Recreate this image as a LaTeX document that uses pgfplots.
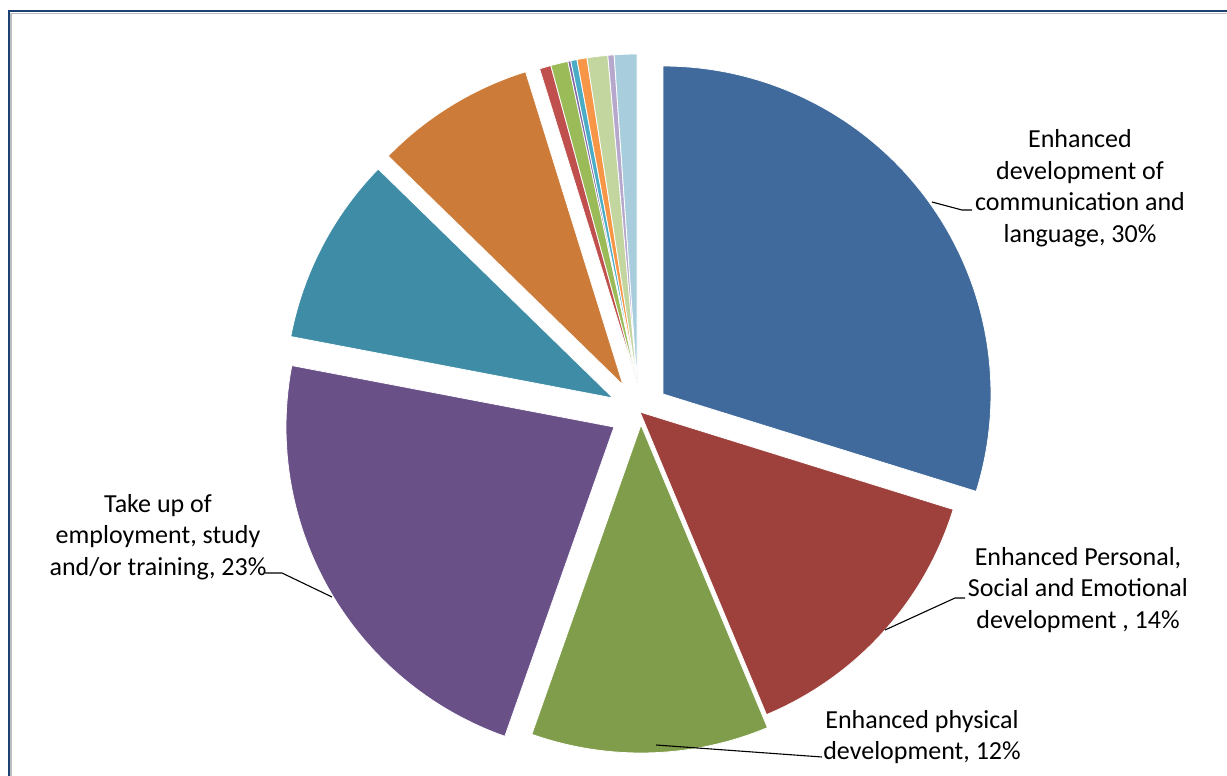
\documentclass[border=0pt]{standalone}
\usepackage{pgfplots}
\pgfplotsset{compat=1.18}
\usepackage{fontspec}
\setmainfont{Carlito}

\definecolor{cBlue}{RGB}{64,106,155}
\definecolor{cRed}{RGB}{158,65,61}
\definecolor{cGreen}{RGB}{127,157,74}
\definecolor{cPurple}{RGB}{105,81,136}
\definecolor{cTeal}{RGB}{62,140,165}
\definecolor{cOrange}{RGB}{204,123,57}
\definecolor{sRed}{RGB}{192,80,77}
\definecolor{sGreen}{RGB}{155,187,89}
\definecolor{sPurple}{RGB}{128,100,162}
\definecolor{sAqua}{RGB}{75,172,198}
\definecolor{sOrange}{RGB}{247,150,70}
\definecolor{sLGreen}{RGB}{196,214,160}
\definecolor{sLav}{RGB}{182,168,204}
\definecolor{sLBlue}{RGB}{168,206,222}
\definecolor{frameNavy}{RGB}{28,64,115}
\definecolor{frameGray}{RGB}{190,190,190}

% slice values (percent), clockwise from 12 o'clock
\def\vA{29.8}  % Enhanced development of communication and language
\def\vB{13.9}  % Enhanced Personal, Social and Emotional development
\def\vC{11.7}  % Enhanced physical development
\def\vD{22.6}  % Take up of employment, study and/or training
\def\vE{9.3}
\def\vF{7.9}
\def\vG{0.57}
\def\vH{0.85}
\def\vI{0.14}
\def\vJ{0.31}
\def\vK{0.49}
\def\vL{1.02}
\def\vM{0.31}
\def\vN{1.11}

\def\R{328}

\newcommand{\slice}[5]{%
  \addplot[fill=#1, draw=white, line width=0.8pt, domain=#2:#3, samples=90, variable=\t]
    ({#4+\R*sin(t)}, {#5-\R*cos(t)}) -- (axis cs:#4,#5) -- cycle;
}

\begin{document}
\begin{tikzpicture}
\fill[white] (-5pt,-5pt) rectangle (1235pt,785pt);
\pgfmathsetmacro\aA{0}
\pgfmathsetmacro\aB{\aA+3.6*\vA}
\pgfmathsetmacro\aC{\aB+3.6*\vB}
\pgfmathsetmacro\aD{\aC+3.6*\vC}
\pgfmathsetmacro\aE{\aD+3.6*\vD}
\pgfmathsetmacro\aF{\aE+3.6*\vE}
\pgfmathsetmacro\aG{\aF+3.6*\vF}
\pgfmathsetmacro\aH{\aG+3.6*\vG}
\pgfmathsetmacro\aI{\aH+3.6*\vH}
\pgfmathsetmacro\aJ{\aI+3.6*\vI}
\pgfmathsetmacro\aK{\aJ+3.6*\vJ}
\pgfmathsetmacro\aL{\aK+3.6*\vK}
\pgfmathsetmacro\aM{\aL+3.6*\vL}
\pgfmathsetmacro\aN{\aM+3.6*\vM}
\pgfmathsetmacro\aO{\aN+3.6*\vN}
\begin{axis}[
  width=1227pt, height=776pt, scale only axis,
  xmin=0, xmax=1227, ymin=0, ymax=776, y dir=reverse,
  hide axis, clip=false,
]
% frame
\draw[frameGray, line width=1.5pt] (axis cs:11,780) -- (axis cs:11,13.5) -- (axis cs:1230,13.5);
\draw[frameNavy, line width=2pt] (axis cs:8.5,780) -- (axis cs:8.5,11) -- (axis cs:1230,11);

\slice{cBlue}{\aA}{\aB}{663}{394}
\slice{cRed}{\aB}{\aC}{640}{412}
\slice{cGreen}{\aC}{\aD}{641}{425}
\slice{cPurple}{\aD}{\aE}{614}{427}
\slice{cTeal}{\aE}{\aF}{613}{398}
\slice{cOrange}{\aF}{\aG}{623}{385}
\slice{sRed}{\aG}{\aH}{637}{382}
\slice{sGreen}{\aH}{\aI}{637}{382}
\slice{sPurple}{\aI}{\aJ}{637}{382}
\slice{sAqua}{\aJ}{\aK}{637}{382}
\slice{sOrange}{\aK}{\aL}{637}{382}
\slice{sLGreen}{\aL}{\aM}{637}{382}
\slice{sLav}{\aM}{\aN}{637}{382}
\slice{sLBlue}{\aN}{\aO}{637}{382}

% leader lines
\draw[black, line width=1.1pt] (axis cs:932,202) -- (axis cs:962,210) -- (axis cs:972,210);
\draw[black, line width=1.1pt] (axis cs:885,630) -- (axis cs:955,598) -- (axis cs:965,598);
\draw[black, line width=1.1pt] (axis cs:656,745) -- (axis cs:822,757);
\draw[black, line width=1.1pt] (axis cs:265,573) -- (axis cs:282,573) -- (axis cs:332,597);

% labels
\tikzset{lab/.style={align=center, inner sep=0pt, font=\fontsize{26}{31.5}\selectfont}}
\node[lab] at (axis cs:1080,188) {Enhanced\\development of\\communication and\\language, 30\%};
\node[lab] at (axis cs:1078,590) {Enhanced Personal,\\Social and Emotional\\development , 14\%};
\node[lab] at (axis cs:922,737) {Enhanced physical\\development, 12\%};
\node[lab] at (axis cs:158,537) {Take up of\\employment, study\\and/or training, 23\%};
\end{axis}
\pgfresetboundingbox
\path (0,0) rectangle (1227pt,776pt);
\end{tikzpicture}
\end{document}
